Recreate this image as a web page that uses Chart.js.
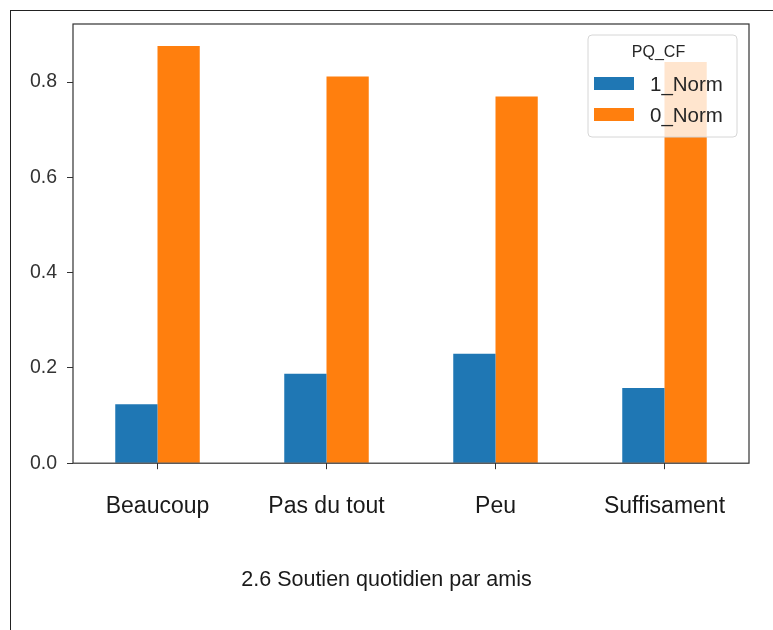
<!DOCTYPE html>
<html>
<head>
<meta charset="utf-8">
<script src="https://cdn.jsdelivr.net/npm/chart.js@4/dist/chart.umd.min.js"></script>
<style>
    body { margin: 0; background: #fff; }
    #wrap { position: relative; width: 773px; height: 630px; }
    #frame { position: absolute; left: 10px; top: 10px; right: 0; bottom: 0; border-left: 1px solid #222; border-top: 1px solid #222; }
</style>
</head>
<body>
<div id="wrap">
    <div id="frame"></div>
    <canvas id="chart" width="773" height="630"></canvas>
</div>
<script>
// données
const categories = ['Beaucoup', 'Pas du tout', 'Peu', 'Suffisament'];
const norm1 = [0.124, 0.188, 0.230, 0.158];
const norm0 = [0.876, 0.812, 0.770, 0.842];
const seriesNames = ['1_Norm', '0_Norm'];
const legendTitle = 'PQ_CF';
const yTicks = [0.0, 0.2, 0.4, 0.6, 0.8];
const caption = '2.6 Soutien quotidien par amis';

const FONT = "'Liberation Sans', Arial, sans-serif";

// cadre complet des axes + légende façon matplotlib
const mplPlugin = {
    id: 'mplPlugin',
    afterDraw(chart) {
        const ctx = chart.ctx;
        const a = chart.chartArea;
        ctx.save();
        ctx.strokeStyle = '#333';
        ctx.lineWidth = 1.2;
        ctx.strokeRect(a.left, a.top, a.right - a.left, a.bottom - a.top);

        // légende
        const bw = 149, bh = 102;
        const bx = a.right - 12 - bw, by = a.top + 11;
        ctx.beginPath();
        ctx.roundRect(bx, by, bw, bh, 4);
        ctx.fillStyle = 'rgba(255,255,255,0.8)';
        ctx.fill();
        ctx.strokeStyle = '#d6d6d6';
        ctx.lineWidth = 1;
        ctx.stroke();

        ctx.fillStyle = '#262626';
        ctx.font = '16px ' + FONT;
        ctx.textBaseline = 'middle';
        ctx.textAlign = 'center';
        ctx.fillText(legendTitle, bx + 70.5, by + 18);
        ctx.textAlign = 'left';
        ctx.font = '20.5px ' + FONT;
        chart.data.datasets.forEach((ds, i) => {
            const cy = by + 48.5 + i * 31;
            ctx.fillStyle = ds.backgroundColor;
            ctx.fillRect(bx + 6, cy - 6.5, 40, 13);
            ctx.fillStyle = '#262626';
            ctx.fillText(ds.label, bx + 62, cy + 2);
        });
        ctx.restore();
    }
};

new Chart(document.getElementById('chart'), {
    type: 'bar',
    data: {
        labels: categories,
        datasets: [
            { label: seriesNames[0], data: norm1, backgroundColor: '#1f77b4' },
            { label: seriesNames[1], data: norm0, backgroundColor: '#ff7f0e' }
        ]
    },
    options: {
        responsive: false,
        animation: false,
        categoryPercentage: 0.5,
        barPercentage: 1.0,
        layout: { padding: { left: 24, top: 24, right: 24, bottom: 0 } },
        plugins: {
            legend: { display: false },
            tooltip: { enabled: false },
            title: {
                display: true,
                position: 'bottom',
                text: caption,
                color: '#1a1a1a',
                font: { family: FONT, size: 21.5, weight: 'normal' },
                padding: { top: 24, bottom: 37 }
            }
        },
        scales: {
            x: {
                grid: { display: true, drawOnChartArea: false, drawTicks: true, tickLength: 6, offset: false, color: '#333' },
                border: { display: false },
                ticks: { color: '#1a1a1a', font: { family: FONT, size: 23 }, padding: 24, maxRotation: 0 },
                afterFit(axis) { axis.height = 80; }
            },
            y: {
                min: 0,
                max: 0.922,
                grid: { display: true, drawOnChartArea: false, drawTicks: true, tickLength: 6, color: '#333' },
                border: { display: false },
                ticks: {
                    color: '#333',
                    font: { family: FONT, size: 19.5 },
                    padding: 10,
                    callback: v => v.toFixed(1)
                },
                afterBuildTicks(axis) { axis.ticks = yTicks.map(v => ({ value: v })); },
                afterFit(axis) { axis.width = 49; }
            }
        }
    },
    plugins: [mplPlugin]
});
</script>
</body>
</html>
